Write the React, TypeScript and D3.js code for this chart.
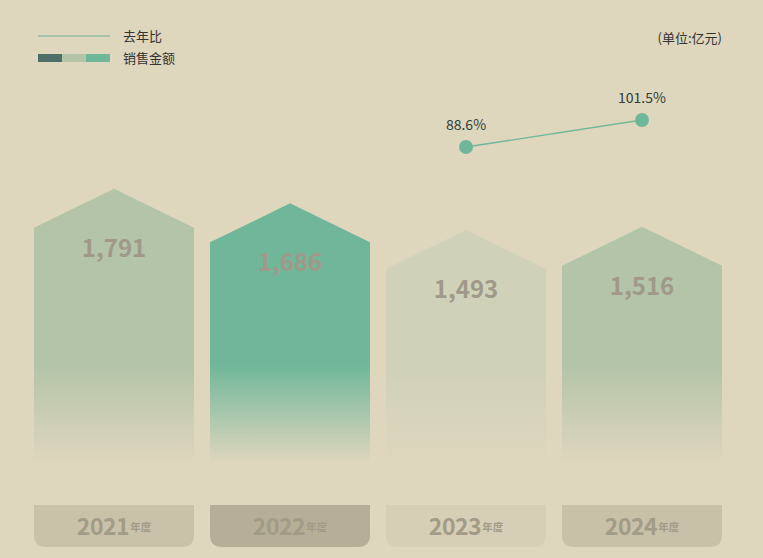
import * as d3 from "d3";

const years = ["2021", "2022", "2023", "2024"];
const sales = [1791, 1686, 1493, 1516];
const ratioYears = ["2023", "2024"];
const ratios = [88.6, 101.5];

const barColors = ["#b3c4a8", "#70b79a", "#cfd2b8", "#b3c4a8"];
const boxColors = ["#c9c2a9", "#b6ae97", "#d6cfb6", "#c8c1a8"];
const bg = "#ded6bd";
const font = "'Noto Sans CJK SC', 'Noto Sans', sans-serif";

const width = 763;
const height = 558;
const base = 462;
const roof = 39;

const App = () => {
  const x = d3.scaleBand<string>().domain(years).range([34, 722]).paddingInner(16 / 176).paddingOuter(0);
  const y = d3.scaleLinear().domain([1000, 1800]).range([337, 226.6]);
  const yr = d3.scaleLinear().domain([80, 110]).range([165, 102.2]);
  const fmt = d3.format(",");
  const bw = x.bandwidth();
  const cx = (k: string) => (x(k) ?? 0) + bw / 2;

  const line = d3
    .line<number>()
    .x((_, i) => cx(ratioYears[i]))
    .y((d) => yr(d));

  return (
    <svg
      width={width}
      height={height}
      style={{ position: "fixed", left: 0, top: 0, background: bg, fontFamily: font }}
    >
      <rect width={width} height={height} fill={bg} />
      <defs>
        {years.map((k, i) => (
          <linearGradient key={k} id={`g${i}`} gradientUnits="userSpaceOnUse" x1="0" x2="0" y1="365" y2={base}>
            <stop offset="0" stopColor={barColors[i]} />
            <stop offset="1" stopColor={bg} />
          </linearGradient>
        ))}
      </defs>

      {/* legend */}
      <line x1={38} x2={110} y1={36} y2={36} stroke="#a9c2aa" strokeWidth={2} />
      <text x={123} y={41} fontSize={13} fill="#333">去年比</text>
      <rect x={38} y={54} width={24} height={8} fill="#4e6e68" />
      <rect x={62} y={54} width={24} height={8} fill="#b3c4a8" />
      <rect x={86} y={54} width={24} height={8} fill="#70b79a" />
      <text x={123} y={63} fontSize={13} fill="#333">销售金额</text>
      <text x={722} y={43} fontSize={13} fill="#333" textAnchor="end">(单位:亿元)</text>

      {/* bars */}
      {years.map((k, i) => {
        const x0 = x(k) ?? 0;
        const x1 = x0 + bw;
        const s = y(sales[i]);
        const p = d3.path();
        p.moveTo(x0, base);
        p.lineTo(x0, s);
        p.lineTo(x0 + bw / 2, s - roof);
        p.lineTo(x1, s);
        p.lineTo(x1, base);
        p.closePath();
        return (
          <g key={k}>
            <path d={p.toString()} fill={`url(#g${i})`} />
            <text
              x={x0 + bw / 2}
              y={s + 29}
              textAnchor="middle"
              fontSize={24}
              fontWeight="bold"
              fill="#a0998a"
            >
              {fmt(sales[i])}
            </text>
          </g>
        );
      })}

      {/* year boxes */}
      {years.map((k, i) => {
        const x0 = x(k) ?? 0;
        const top = 505;
        const bot = 547;
        const r = 12;
        const p = d3.path();
        p.moveTo(x0, top);
        p.lineTo(x0 + bw, top);
        p.lineTo(x0 + bw, bot - r);
        p.quadraticCurveTo(x0 + bw, bot, x0 + bw - r, bot);
        p.lineTo(x0 + r, bot);
        p.quadraticCurveTo(x0, bot, x0, bot - r);
        p.closePath();
        return (
          <g key={k}>
            <path d={p.toString()} fill={boxColors[i]} />
            <text x={x0 + bw / 2} y={535} textAnchor="middle" fill="#a29b87" fontWeight="bold">
              <tspan fontSize={23} letterSpacing={-0.5}>{k}</tspan>
              <tspan fontSize={10.5} dy={-4} dx={1}>年度</tspan>
            </text>
          </g>
        );
      })}

      {/* ratio line */}
      <path d={line(ratios) ?? ""} fill="none" stroke="#70b79a" strokeWidth={1.3} />
      {ratios.map((v, i) => (
        <g key={ratioYears[i]}>
          <circle cx={cx(ratioYears[i])} cy={yr(v)} r={7} fill="#70b79a" />
          <text x={cx(ratioYears[i])} y={yr(v) - 17} textAnchor="middle" fontSize={14} fill="#2f3f3a">
            {v.toFixed(1)}%
          </text>
        </g>
      ))}
    </svg>
  );
};

export default App;
